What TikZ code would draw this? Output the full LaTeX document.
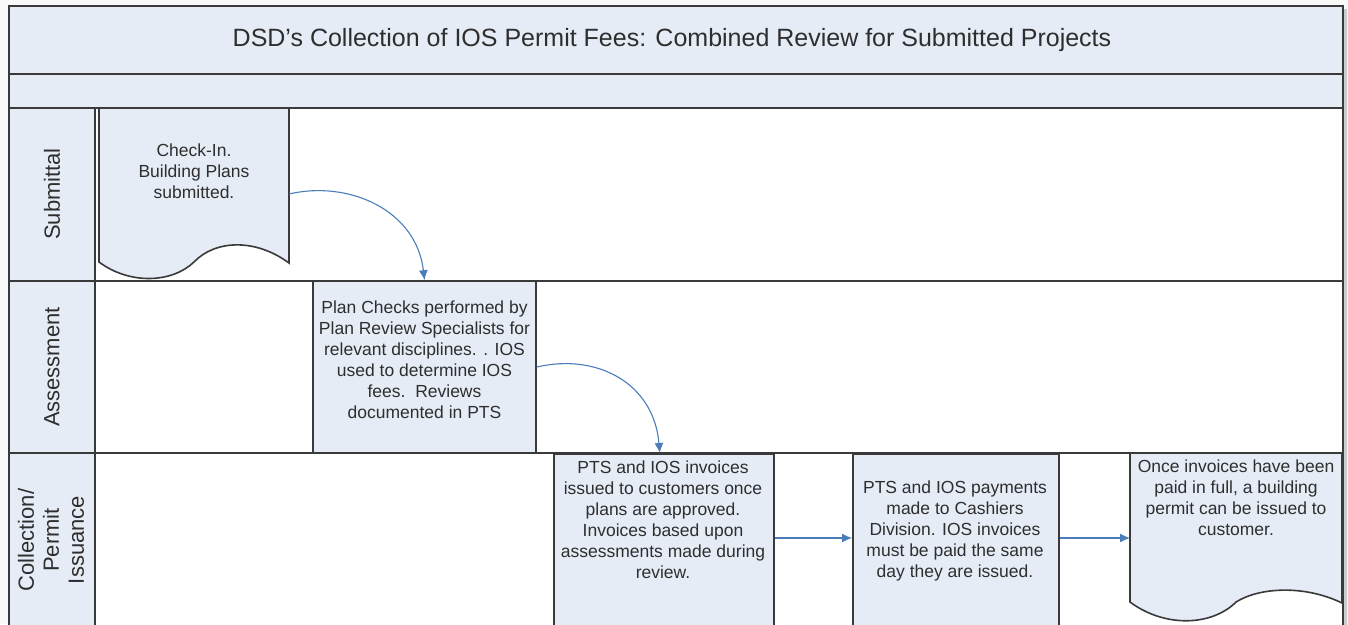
\documentclass[tikz,border=0pt]{standalone}
\usepackage{fontspec}
\setmainfont{Liberation Sans}
\usetikzlibrary{arrows.meta,positioning}
\definecolor{bandfill}{HTML}{E6ECF6}
\definecolor{rulecol}{HTML}{3A3A3A}
\definecolor{flowcol}{HTML}{4A7DBA}
\definecolor{inkcol}{HTML}{2E2E2E}

\begin{document}
\begin{tikzpicture}[x=1pt,y=-1pt,
    rule/.style={draw=rulecol,line width=1.6pt},
    band/.style={rule,fill=bandfill},
    taskbox/.style={band,inner sep=0pt},
    txt/.style={text=inkcol,align=center,inner sep=0pt,font=\fontsize{17.5}{21}\selectfont},
    lanetxt/.style={txt,rotate=90,font=\fontsize{22}{25}\selectfont},
    flow/.style={draw=flowcol,line width=1.1pt,-{Latex[length=10pt,width=9pt]}}]
  \useasboundingbox (0,0) rectangle (1348,624);
  \clip (0,0) rectangle (1348,624);
  \fill[gray!5] (0,0) rectangle (1348,624);
  \fill[gray!40] (12,9) rectangle (1347,640);

  % pool, header bands and lanes
  \path[rule,fill=white] (9,6) rectangle (1343,640);
  \path[band] (9,6) rectangle (1343,74);
  \path[band] (9,74) rectangle (1343,108);
  \path[band] (9,108) rectangle (95,640);
  \draw[rule] (9,281) -- (1343,281);
  \draw[rule] (9,453) -- (1343,453);

  \node[txt,font=\fontsize{25}{30}\selectfont] (title) at (672,40)
    {DSD’s Collection of IOS Permit Fees: Combined Review for Submitted Projects};
  \node[lanetxt] (submittal) at (52,194) {Submittal};
  \node[lanetxt] (assessment) at (52,367) {Assessment};
  \node[lanetxt] (collection) at (51,540) {Collection/\\Permit\\Issuance};

  % steps
  \path[band] (99,108) -- (289,108) -- (289,263)
    .. controls (255,238) and (215,240) .. (194,262)
    .. controls (172,283) and (130,285) .. (99,262) -- cycle;
  \node[txt] (checkin) at (194,171) {Check-In.\\Building Plans\\submitted.};
  \coordinate (checkin-out) at (289,194);

  \node[taskbox,minimum width=223pt,minimum height=172pt] (plan) at (424.5,367) {};
  \node[txt] (plan-txt) at (424.5,360) {Plan Checks performed by\\Plan Review Specialists for\\relevant disciplines. . IOS\\used to determine IOS\\fees.\ \ Reviews\\documented in PTS};

  \node[taskbox,anchor=north west,minimum width=220pt,minimum height=190pt] (invoice) at (553,453) {};
  \node[txt] (invoice-txt) at (663,519.5) {PTS and IOS invoices\\issued to customers once\\plans are approved.\\Invoices based upon\\assessments made during\\review.};

  \node[taskbox,anchor=north west,minimum width=206pt,minimum height=190pt] (payment) at (852,453) {};
  \node[txt] (payment-txt) at (955,531) {PTS and IOS payments\\made to Cashiers\\Division. IOS invoices\\must be paid the same\\day they are issued.};

  \path[band] (1130,453) -- (1342,453) -- (1342,603)
    .. controls (1305,585) and (1260,587) .. (1236,602)
    .. controls (1212,626) and (1165,628) .. (1130,602) -- cycle;
  \node[txt] (permit) at (1236,498) {Once invoices have been\\paid in full, a building\\permit can be issued to\\customer.};
  \coordinate (permit-in) at (1130,538);

  % flow
  \coordinate (rowflow) at (0,538);
  \draw[flow] (checkin-out) .. controls +(60,-14) and +(-8,-70) .. (plan.north);
  \draw[flow] (plan.east) .. controls +(60,-14) and +(-6,-70) .. ([xshift=-4pt]invoice.north);
  \draw[flow] (invoice.east |- rowflow) -- (payment.west |- rowflow);
  \draw[flow] (payment.east |- rowflow) -- (permit-in);
\end{tikzpicture}
\end{document}
